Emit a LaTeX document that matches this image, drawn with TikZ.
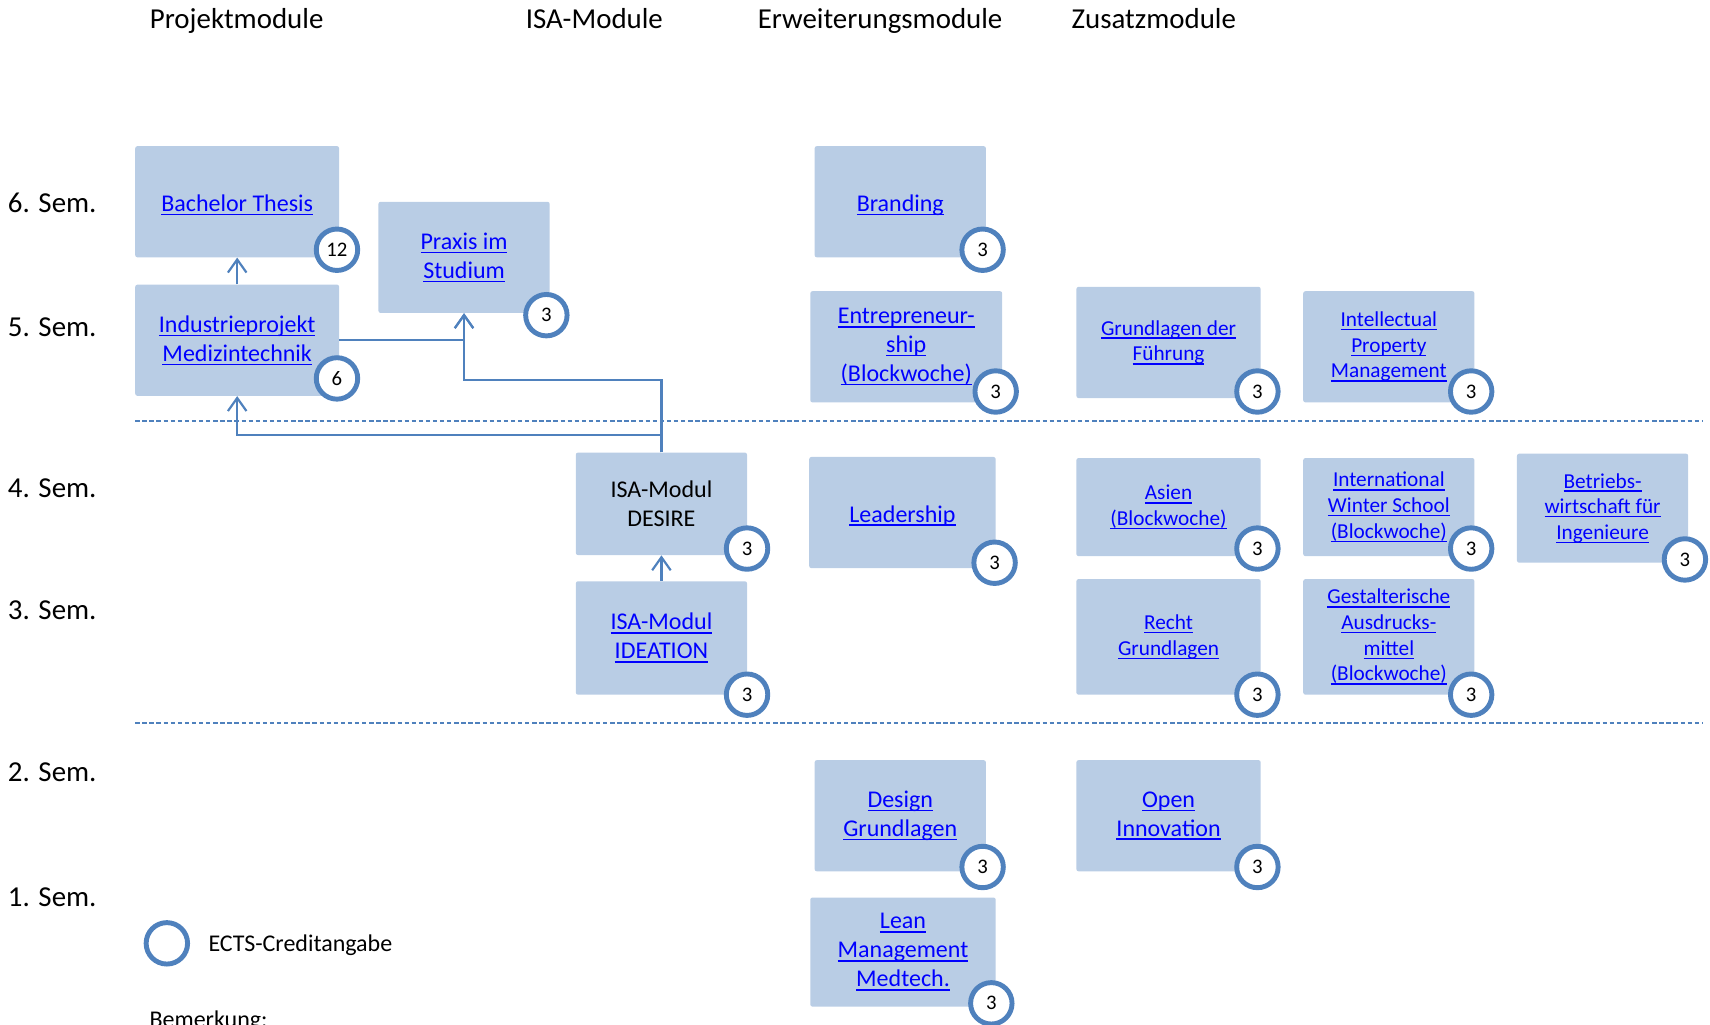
\documentclass[tikz,border=0pt]{standalone}
\usepackage{fontspec}
\setmainfont{Carlito}
\usetikzlibrary{arrows.meta}
\definecolor{boxblue}{HTML}{B9CDE5}
\definecolor{lineblue}{HTML}{4F81BD}
\definecolor{linkblue}{HTML}{0000FF}
\newcommand\modfont{\fontsize{22}{26.5}\selectfont}
\newcommand\smallmodfont{\fontsize{19.5}{23.5}\selectfont}
\newcommand\headfont{\fontsize{26.5}{32}\selectfont}
\newcommand\ectsfont{\fontsize{19}{20}\selectfont}
\newcommand\lnk[1]{\textcolor{linkblue}{\setbox0\hbox{#1}\rlap{\rule[-3.5pt]{\wd0}{1.3pt}}\box0}}
\tikzstyle{modbox} = [fill=boxblue, rounded corners=2pt, inner sep=0pt, align=center, font=\modfont,
  execute at begin node={\rule{0pt}{21pt}}]
\tikzstyle{smallbox} = [modbox, font=\smallmodfont, execute at begin node={\rule{0pt}{17.5pt}}]
\tikzstyle{ects} = [circle, draw=lineblue, line width=4.5pt, fill=white, minimum size=38pt, inner sep=0pt, font=\ectsfont]
\tikzstyle{conn} = [draw=lineblue, line width=2pt]
\tikzstyle{semline} = [draw=lineblue, line width=1.2pt, dash pattern=on 4pt off 2.5pt]
\tikzstyle{headtxt} = [font=\headfont, inner sep=0pt]
\tikzset{>={Straight Barb[length=12pt,width=17pt]}}

\begin{document}
\begin{tikzpicture}[x=1pt, y=-1pt]
  \useasboundingbox (0,0) rectangle (1568,939);
  % Column headings
  \node[headtxt, anchor=base] (projhead) at (217,26.5) {Projektmodule};
  \node[headtxt, anchor=base] (isahead) at (545,26.5) {ISA-Module};
  \node[headtxt, anchor=base] (erwhead) at (807,26.5) {Erweiterungsmodule};
  \node[headtxt, anchor=base] (zushead) at (1058,26.5) {Zusatzmodule};
  % Semester labels
  \foreach \y/\s in {186/6, 300/5, 448/4, 560/3, 708/2, 823/1} {
    \node[headtxt, anchor=west] (sem\s) at (7,\y) {\s. Sem.};
  }
  % Dashed semester borders
  \draw[semline] (124,386) -- (1562,386);
  \draw[semline] (124,663) -- (1562,663);
  % Projektmodule and ISA-Module
  \node[modbox, minimum width=187pt, minimum height=102pt] (bachelor) at (217.5,185) {\lnk{Bachelor Thesis}};
  \node[modbox, minimum width=157pt, minimum height=102pt] (praxis) at (425.5,236) {\lnk{Praxis im}\\\lnk{Studium}};
  \node[modbox, minimum width=187pt, minimum height=102pt] (industrie) at (217.5,312) {\lnk{Industrieprojekt}\\\lnk{Medizintechnik}};
  \node[modbox, minimum width=157pt, minimum height=94pt] (desire) at (606.5,462) {ISA-Modul\\DESIRE};
  \node[modbox, minimum width=157pt, minimum height=104pt] (ideation) at (606.5,585) {\lnk{ISA-Modul}\\\lnk{IDEATION}};
  % Erweiterungsmodule
  \node[modbox, minimum width=157pt, minimum height=102pt] (branding) at (825.5,185) {\lnk{Branding}};
  \node[modbox, minimum width=176pt, minimum height=102pt] (entre) at (831,318) {\lnk{Entrepreneur-}\\\lnk{ship}\\\lnk{(Blockwoche)}};
  \node[modbox, minimum width=171pt, minimum height=102pt] (leader) at (827.5,470) {\lnk{Leadership}};
  \node[modbox, minimum width=157pt, minimum height=102pt] (design) at (825.5,748) {\lnk{Design}\\\lnk{Grundlagen}};
  \node[modbox, minimum width=170pt, minimum height=100pt] (lean) at (828,873) {\lnk{Lean}\\\lnk{Management}\\\lnk{Medtech.}};
  % Zusatzmodule
  \node[smallbox, minimum width=169pt, minimum height=102pt] (fuehrung) at (1071.5,314) {\lnk{Grundlagen der}\\\lnk{Führung}};
  \node[smallbox, minimum width=157pt, minimum height=102pt] (ipm) at (1273.5,318) {\lnk{Intellectual}\\\lnk{Property}\\\lnk{Management}};
  \node[smallbox, minimum width=169pt, minimum height=90pt] (asien) at (1071.5,465) {\lnk{Asien}\\\lnk{(Blockwoche)}};
  \node[smallbox, minimum width=157pt, minimum height=90pt] (winter) at (1273.5,465) {\lnk{International}\\\lnk{Winter School}\\\lnk{(Blockwoche)}};
  \node[smallbox, minimum width=157pt, minimum height=100pt] (bwl) at (1469.5,466) {\lnk{Betriebs-}\\\lnk{wirtschaft für}\\\lnk{Ingenieure}};
  \node[smallbox, minimum width=169pt, minimum height=106pt] (recht) at (1071.5,584) {\lnk{Recht}\\\lnk{Grundlagen}};
  \node[smallbox, minimum width=157pt, minimum height=106pt] (gestalt) at (1273.5,584) {\lnk{Gestalterische}\\\lnk{Ausdrucks-}\\\lnk{mittel}\\\lnk{(Blockwoche)}};
  \node[modbox, minimum width=169pt, minimum height=102pt] (openinno) at (1071.5,748) {\lnk{Open}\\\lnk{Innovation}};
  % Connectors
  \draw[conn,->] (industrie.north) -- (bachelor.south);
  \draw[conn,->] (industrie.east) -| (praxis.south);
  \draw[conn,->] (desire.north) -- ++(0,-66) -| (praxis.south);
  \draw[conn,->] (desire.north) -- ++(0,-16) -| (industrie.south);
  \draw[conn,->] (ideation.north) -- (desire.south);
  % ECTS credits
  \foreach \x/\y/\n/\name in {309/229/12/bachelorects, 501/289/3/praxisects, 309/347/6/industrieects,
    685/503/3/desireects, 685/637/3/ideationects, 901/229/3/brandingects, 913/359/3/entreects,
    912/516/3/leaderects, 901/795/3/designects, 909/920/3/leanects, 1153/359/3/fuehrungects,
    1349/359/3/ipmects, 1153/503/3/asienects, 1349/503/3/winterects, 1545/513/3/bwlects,
    1153/637/3/rechtects, 1349/637/3/gestaltects, 1153/795/3/openinnoects} {
    \node[ects] (\name) at (\x,\y) {\n};
  }
  % Legend
  \node[ects] (legendring) at (153,865) {};
  \node[anchor=west, font=\modfont, inner sep=0pt] (legendtxt) at (191,867) {ECTS-Creditangabe};
  \node[anchor=base west, font=\modfont, inner sep=0pt] (remark) at (137,942) {Bemerkung:};
\end{tikzpicture}
\end{document}
